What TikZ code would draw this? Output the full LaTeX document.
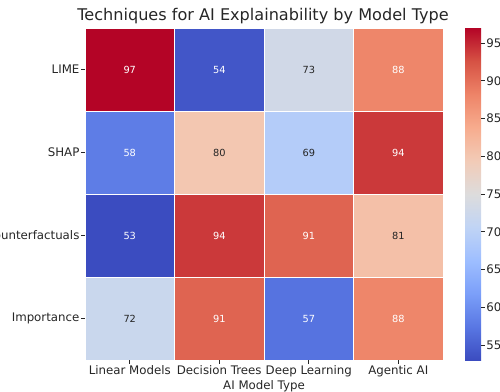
\documentclass[tikz,border=0pt]{standalone}
\usepackage{fontspec}
\setmainfont{DejaVu Sans}
\usetikzlibrary{positioning}

% coolwarm colour map, sampled at 0, 0.1, ..., 1
\definecolor{cw0}{HTML}{3B4CC0}
\definecolor{cw1}{HTML}{5977E3}
\definecolor{cw2}{HTML}{7B9FF9}
\definecolor{cw3}{HTML}{9EBEFF}
\definecolor{cw4}{HTML}{C0D4F5}
\definecolor{cw5}{HTML}{DDDCDC}
\definecolor{cw6}{HTML}{F2CBB7}
\definecolor{cw7}{HTML}{F7AC8E}
\definecolor{cw8}{HTML}{EE8468}
\definecolor{cw9}{HTML}{D65244}
\definecolor{cw10}{HTML}{B40426}
\definecolor{labelgray}{gray}{0.15}

\pgfdeclareverticalshading{coolwarm}{100bp}{color(0bp)=(cw0); color(25bp)=(cw0);
  color(30bp)=(cw1); color(35bp)=(cw2); color(40bp)=(cw3); color(45bp)=(cw4);
  color(50bp)=(cw5); color(55bp)=(cw6); color(60bp)=(cw7); color(65bp)=(cw8);
  color(70bp)=(cw9); color(75bp)=(cw10); color(100bp)=(cw10)}

\newcommand{\tickfont}{\fontsize{11.8}{14}\selectfont}
\newcommand{\annotfont}{\fontsize{9.8}{12}\selectfont}
\newcommand{\titlefont}{\fontsize{16.1}{19}\selectfont}

\begin{document}
\begin{tikzpicture}[x=1pt,y=-1pt,
  heatcell/.style={draw=white,line width=0.8pt,minimum width=89.5pt,minimum height=83pt,inner sep=0pt,font=\annotfont},
  ticklabel/.style={text=labelgray,font=\tickfont,inner sep=0pt},
  tickmark/.style={draw=labelgray,line width=0.7pt},
  colorbar/.style={shading=coolwarm,minimum width=16pt,minimum height=332pt,inner sep=0pt}]

\useasboundingbox (0,0) rectangle (500,391);
\clip (0,0) rectangle (500,391);

% Title
\node[text=labelgray,font=\titlefont] (title) at (263,16) {Techniques for AI Explainability by Model Type};

% Heat map cells (value / text colour)
\foreach \v/\tc [count=\n from 0] in {97/white,54/white,73/labelgray,88/white,
    58/white,80/labelgray,69/labelgray,94/white,
    53/white,94/white,91/white,81/labelgray,
    72/labelgray,91/white,57/white,88/white}{
  \pgfmathtruncatemacro\row{int(\n/4)}
  \pgfmathtruncatemacro\col{mod(\n,4)}
  \pgfmathsetmacro\tv{(\v-53)/4.4}
  \pgfmathtruncatemacro\lowi{min(floor(\tv),9)}
  \pgfmathtruncatemacro\highi{\lowi+1}
  \pgfmathtruncatemacro\pc{round((\tv-\lowi)*100)}
  \colorlet{heat}{cw\highi!\pc!cw\lowi}
  \node[heatcell,fill=heat,text=\tc] (cell-\row-\col) at ({85+89.5*(\col+0.5)},{28+83*(\row+0.5)}) {\v};
}

% Row labels
\foreach \lab [count=\row from 0] in {LIME,SHAP,Counterfactuals,Importance}{
  \draw[tickmark] (cell-\row-0.west) -- ++(-3.5,0);
  \node[ticklabel,left=5pt of cell-\row-0.west] (row-\row) {\lab};
}

% Column labels
\foreach \lab [count=\col from 0] in {Linear Models,Decision Trees,Deep Learning,Agentic AI}{
  \draw[tickmark] (cell-3-\col.south) -- ++(0,3.5);
  \node[ticklabel,below=5pt of cell-3-\col.south] (col-\col) {\lab};
}
\node[ticklabel,anchor=north] (xlabel) at (264,380.5) {AI Model Type};

% Colour bar
\node[colorbar] (cbar) at (473,194) {};
\foreach \v in {55,60,...,95}{
  \draw[tickmark] ({481},{360-(\v-53)*7.545}) -- ++(3.5,0)
    node[ticklabel,right=1.5pt] (cb-\v) {\v};
}

\end{tikzpicture}
\end{document}
